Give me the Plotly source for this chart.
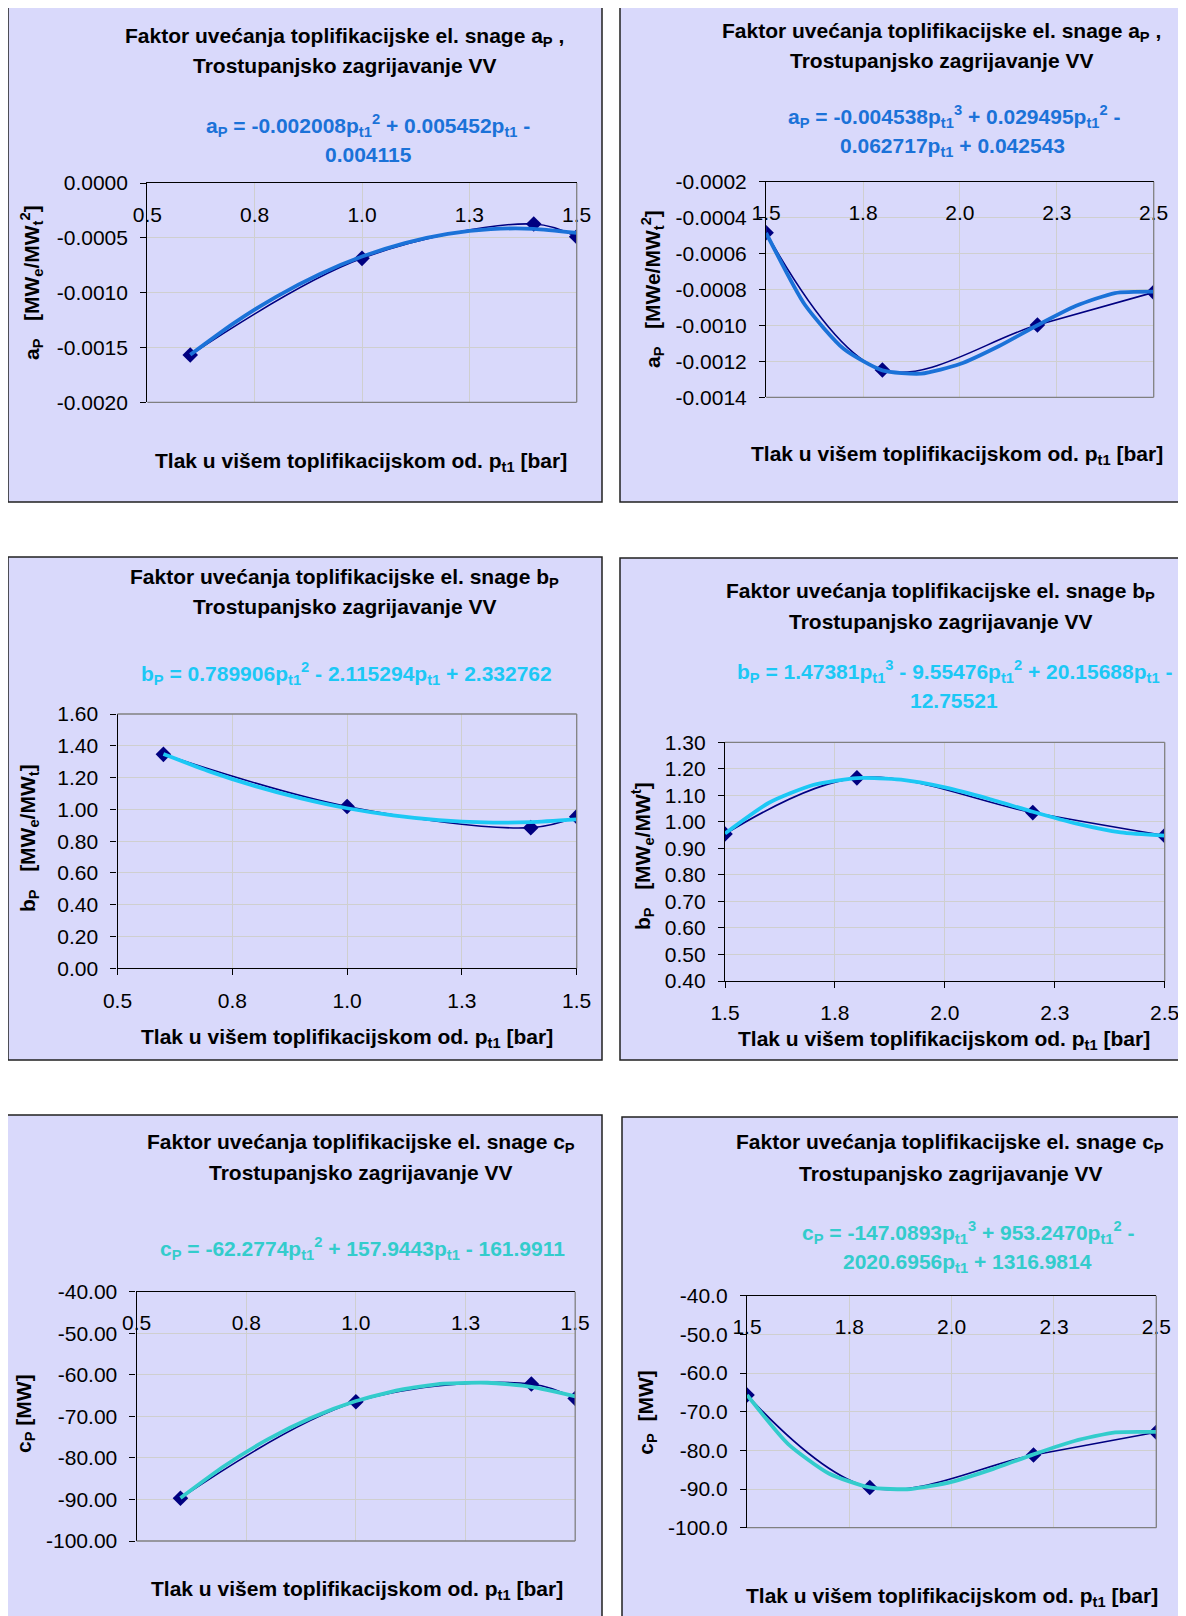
import plotly.graph_objects as go

# the page body adds an 8px margin, so the figure is placed at (8, 8)
OFF = 8
W, H = 1178, 1608

# ---------------- data ----------------
x_low = [0.6, 1.0, 1.4, 1.5]
x_high = [1.5, 1.8, 2.2, 2.5]
trend_x_low = [0.6, 0.7, 0.8, 0.9, 1.0, 1.1, 1.2, 1.3, 1.4, 1.5]
trend_x_high = [1.5, 1.6, 1.7, 1.8, 1.9, 2.0, 2.1, 2.2, 2.3, 2.4, 2.5]

a_low = [-0.001569, -0.000687, -0.000374, -0.000490]
a_low_trend = [-0.001567, -0.001283, -0.001038, -0.000834, -0.000671,
               -0.000548, -0.000465, -0.000421, -0.000418, -0.000455]
a_high = [-0.000484, -0.001248, -0.000998, -0.000816]
a_high_trend = [-0.000485, -0.000885, -0.001130, -0.001250, -0.001268, -0.001215,
                -0.001116, -0.000999, -0.000891, -0.000820, -0.000812]

b_low = [1.346, 1.018, 0.885, 0.954]
b_low_trend = [1.348, 1.239, 1.146, 1.069, 1.007, 0.962, 0.932, 0.918, 0.920, 0.937]
b_high = [0.954, 1.166, 1.035, 0.948]
b_high_trend = [0.956, 1.072, 1.139, 1.165, 1.159, 1.130, 1.087, 1.038, 0.993, 0.960, 0.948]

c_low = [-89.7, -66.5, -62.2, -65.7]
c_low_trend = [-89.64, -81.95, -75.49, -70.29, -66.32, -63.61, -62.14, -61.91, -62.93, -65.20]
c_high = [-65.7, -89.6, -81.2, -75.3]
c_high_trend = [-65.68, -78.30, -85.97, -89.58, -90.00, -88.14, -84.85, -81.04, -77.58, -75.35, -75.23]

xtick_low = [0.5, 0.75, 1.0, 1.25, 1.5]
xtext_low = ["0.5", "0.8", "1.0", "1.3", "1.5"]
xtick_high = [1.5, 1.75, 2.0, 2.25, 2.5]
xtext_high = ["1.5", "1.8", "2.0", "2.3", "2.5"]

ytick_a_low = [0, -0.0005, -0.001, -0.0015, -0.002]
ytext_a_low = ["0.0000", "-0.0005", "-0.0010", "-0.0015", "-0.0020"]
ytick_a_high = [-0.0002, -0.0004, -0.0006, -0.0008, -0.0010, -0.0012, -0.0014]
ytext_a_high = ["-0.0002", "-0.0004", "-0.0006", "-0.0008", "-0.0010", "-0.0012", "-0.0014"]
ytick_b_low = [0, 0.2, 0.4, 0.6, 0.8, 1.0, 1.2, 1.4, 1.6]
ytext_b_low = ["0.00", "0.20", "0.40", "0.60", "0.80", "1.00", "1.20", "1.40", "1.60"]
ytick_b_high = [0.4, 0.5, 0.6, 0.7, 0.8, 0.9, 1.0, 1.1, 1.2, 1.3]
ytext_b_high = ["0.40", "0.50", "0.60", "0.70", "0.80", "0.90", "1.00", "1.10", "1.20", "1.30"]
ytick_c = [-40, -50, -60, -70, -80, -90, -100]
ytext_c_low = ["-40.00", "-50.00", "-60.00", "-70.00", "-80.00", "-90.00", "-100.00"]
ytext_c_high = ["-40.0", "-50.0", "-60.0", "-70.0", "-80.0", "-90.0", "-100.0"]

NAVY = "#000080"
BG = "#D9D9FB"
FONT = "Liberation Sans, Arial, sans-serif"
FS = 21
SNAGE = "Faktor uvećanja toplifikacijske el. snage "
SUB = "Trostupanjsko zagrijavanje VV"
XTITLE = "Tlak u višem toplifikacijskom od. p<sub>t1</sub> [bar]"
NB = "\u00a0"

# positions below are page pixels of the reference
panels = [
    dict(box=(8, 6, 602, 502), plot=(147.3, 183, 576.7, 402.3), xr=[0.5, 1.5], yr=[-0.002, 0],
         x=x_low, y=a_low, tx=trend_x_low, ty=a_low_trend, color="#1B72D8", top=True,
         xt=(xtick_low, xtext_low), yt=(ytick_a_low, ytext_a_low),
         title=[(SNAGE + "a<sub>P</sub> ,", 344, 37), (SUB, 344, 66)],
         eq=[("a<sub>P</sub> = -0.002008p<sub>t1</sub><sup>2</sup> + 0.005452p<sub>t1</sub> -", 368, 126),
             ("0.004115", 368, 155)],
         xtitle=(361, 462),
         ytitle=("a<sub>P</sub>" + NB * 3 + "[MW<sub>e</sub>/MW<sub>t</sub><sup>2</sup>]", 31, 283)),
    dict(box=(620, 6, 1179, 502), plot=(766.1, 181.7, 1153.7, 397.3), xr=[1.5, 2.5], yr=[-0.0014, -0.0002],
         x=x_high, y=a_high, tx=trend_x_high, ty=a_high_trend, color="#1B72D8", top=True,
         xt=(xtick_high, xtext_high), yt=(ytick_a_high, ytext_a_high),
         title=[(SNAGE + "a<sub>P</sub> ,", 941.6, 32), (SUB, 941.6, 60)],
         eq=[("a<sub>P</sub> = -0.004538p<sub>t1</sub><sup>3</sup> + 0.029495p<sub>t1</sub><sup>2</sup> -", 953.5, 117),
             ("0.062717p<sub>t1</sub> + 0.042543", 952.6, 147)],
         xtitle=(957, 455),
         ytitle=("a<sub>P</sub>" + NB * 3 + "[MWe/MW<sub>t</sub><sup>2</sup>]", 652, 289)),
    dict(box=(8, 557, 602, 1060), plot=(117.5, 714, 576.7, 968.3), xr=[0.5, 1.5], yr=[0, 1.6],
         x=x_low, y=b_low, tx=trend_x_low, ty=b_low_trend, color="#1CC8F5", top=False,
         xt=(xtick_low, xtext_low), yt=(ytick_b_low, ytext_b_low),
         title=[(SNAGE + "b<sub>P</sub>", 344, 578), (SUB, 344, 607)],
         eq=[("b<sub>P</sub> = 0.789906p<sub>t1</sub><sup>2</sup> - 2.115294p<sub>t1</sub> + 2.332762", 346, 673)],
         xtitle=(347, 1038),
         ytitle=("b<sub>P</sub>" + NB * 3 + "[MW<sub>e</sub>/MW<sub>t</sub>]", 29, 838)),
    dict(box=(620, 558, 1179, 1060), plot=(725, 742.3, 1164.7, 981), xr=[1.5, 2.5], yr=[0.4, 1.3],
         x=x_high, y=b_high, tx=trend_x_high, ty=b_high_trend, color="#1CC8F5", top=False,
         xt=(xtick_high, xtext_high), yt=(ytick_b_high, ytext_b_high),
         title=[(SNAGE + "b<sub>P</sub>", 940.6, 592), (SUB, 940.6, 621)],
         eq=[("b<sub>P</sub> = 1.47381p<sub>t1</sub><sup>3</sup> - 9.55476p<sub>t1</sub><sup>2</sup> + 20.15688p<sub>t1</sub> -", 954.8, 671),
             ("12.75521", 954.4, 700)],
         xtitle=(944, 1040),
         ytitle=("b<sub>P</sub>" + NB * 3 + "[MW<sub>e</sub>/MW<sup>t</sup>]", 642, 856)),
    dict(box=(5, 1115, 602, 1630), plot=(136.6, 1291.7, 575.2, 1541), xr=[0.5, 1.5], yr=[-100, -40],
         x=x_low, y=c_low, tx=trend_x_low, ty=c_low_trend, color="#33CCCC", top=True,
         xt=(xtick_low, xtext_low), yt=(ytick_c, ytext_c_low),
         title=[(SNAGE + "c<sub>P</sub>", 360.5, 1143), (SUB, 360.5, 1172)],
         eq=[("c<sub>P</sub> = -62.2774p<sub>t1</sub><sup>2</sup> + 157.9443p<sub>t1</sub> - 161.9911", 362.6, 1248)],
         xtitle=(357, 1590),
         ytitle=("c<sub>P</sub>" + NB + "[MW]", 25, 1414)),
    dict(box=(622, 1117, 1181, 1630), plot=(747, 1295.7, 1156.3, 1527.7), xr=[1.5, 2.5], yr=[-100, -40],
         x=x_high, y=c_high, tx=trend_x_high, ty=c_high_trend, color="#33CCCC", top=True,
         xt=(xtick_high, xtext_high), yt=(ytick_c, ytext_c_high),
         title=[(SNAGE + "c<sub>P</sub>", 950, 1143), (SUB, 950.7, 1173)],
         eq=[("c<sub>P</sub> = -147.0893p<sub>t1</sub><sup>3</sup> + 953.2470p<sub>t1</sub><sup>2</sup> -", 967.8, 1232),
             ("2020.6956p<sub>t1</sub> + 1316.9814", 967.3, 1263)],
         xtitle=(951.6, 1597),
         ytitle=("c<sub>P</sub>" + NB * 2 + "[MW]", 646.7, 1413)),
]


def fx(v):
    return (v - OFF) / W


def fy(v):
    return 1 - (v - OFF) / H


fig = go.Figure()
shapes = []
annotations = []
layout = {}

for i, p in enumerate(panels, start=1):
    sfx = "" if i == 1 else str(i)
    xa, ya = "x" + sfx, "y" + sfx

    fig.add_trace(go.Scatter(x=p["x"], y=p["y"], xaxis=xa, yaxis=ya, mode="lines+markers",
                             line=dict(color=NAVY, width=1.6, shape="spline", smoothing=1.0),
                             marker=dict(symbol="diamond", size=12, color=NAVY),
                             hoverinfo="skip"))
    fig.add_trace(go.Scatter(x=p["tx"], y=p["ty"], xaxis=xa, yaxis=ya, mode="lines",
                             line=dict(color=p["color"], width=3.8, shape="spline", smoothing=0.6),
                             hoverinfo="skip"))

    x0, y0, x1, y1 = p["plot"]
    layout["xaxis" + sfx] = dict(
        domain=[fx(x0), fx(x1)], anchor=ya, range=p["xr"], automargin=False,
        tickvals=p["xt"][0], ticktext=p["xt"][1],
        side="top" if p["top"] else "bottom",
        ticklabelposition="inside" if p["top"] else "outside",
        ticklabeloverflow="allow",
        ticks="" if p["top"] else "outside", ticklen=6, tickcolor="black",
        ticklabelstandoff=25 if p["top"] else 7,
        showline=True, linecolor="black", linewidth=1.3,
        showgrid=True, gridcolor="#CFCFCF", gridwidth=1, zeroline=False,
        tickfont=dict(size=FS, color="black", family=FONT), fixedrange=True)
    layout["yaxis" + sfx] = dict(
        domain=[fy(y1), fy(y0)], anchor=xa, range=p["yr"], automargin=False,
        tickvals=p["yt"][0], ticktext=p["yt"][1],
        ticks="outside", ticklen=6, tickcolor="black", ticklabelstandoff=8,
        showline=True, linecolor="black", linewidth=1.3,
        showgrid=True, gridcolor="#CFCFCF", gridwidth=1, zeroline=False,
        tickfont=dict(size=FS, color="black", family=FONT), fixedrange=True)

    bx0, by0, bx1, by1 = p["box"]
    shapes.append(dict(type="rect", xref="paper", yref="paper",
                       x0=fx(bx0), x1=fx(bx1), y0=fy(by1), y1=fy(by0),
                       fillcolor=BG, line=dict(color="#202020", width=1.5), layer="below"))
    # grey frame on the two sides of the plot area that carry no axis line
    gy = 0 if p["top"] else 1
    for sx0, sy0, sx1, sy1 in [(1, 0, 1, 1), (0, gy, 1, gy)]:
        shapes.append(dict(type="line", xref=xa + " domain", yref=ya + " domain",
                           x0=sx0, y0=sy0, x1=sx1, y1=sy1,
                           line=dict(color="#808080", width=1.3), layer="above"))

    for txt, cx, cy in p["title"]:
        annotations.append(dict(text=txt, x=fx(cx), y=fy(cy), xref="paper", yref="paper",
                                showarrow=False, xanchor="center", yanchor="middle",
                                font=dict(size=FS, color="black", family=FONT, weight="bold")))
    for txt, cx, cy in p["eq"]:
        annotations.append(dict(text=txt, x=fx(cx), y=fy(cy), xref="paper", yref="paper",
                                showarrow=False, xanchor="center", yanchor="middle",
                                font=dict(size=FS, color=p["color"], family=FONT, weight="bold")))
    cx, cy = p["xtitle"]
    annotations.append(dict(text=XTITLE, x=fx(cx), y=fy(cy), xref="paper", yref="paper",
                            showarrow=False, xanchor="center", yanchor="middle",
                            font=dict(size=FS, color="black", family=FONT, weight="bold")))
    txt, cx, cy = p["ytitle"]
    annotations.append(dict(text=txt, x=fx(cx), y=fy(cy), xref="paper", yref="paper",
                            showarrow=False, xanchor="center", yanchor="middle", textangle=-90,
                            font=dict(size=FS, color="black", family=FONT, weight="bold")))

fig.update_layout(width=W, height=H, autosize=False,
                  margin=dict(l=0, r=0, t=0, b=0, pad=0, autoexpand=False),
                  paper_bgcolor="white", plot_bgcolor="white", showlegend=False,
                  shapes=shapes, annotations=annotations, font=dict(family=FONT), **layout)

fig.write_html("out.html")
